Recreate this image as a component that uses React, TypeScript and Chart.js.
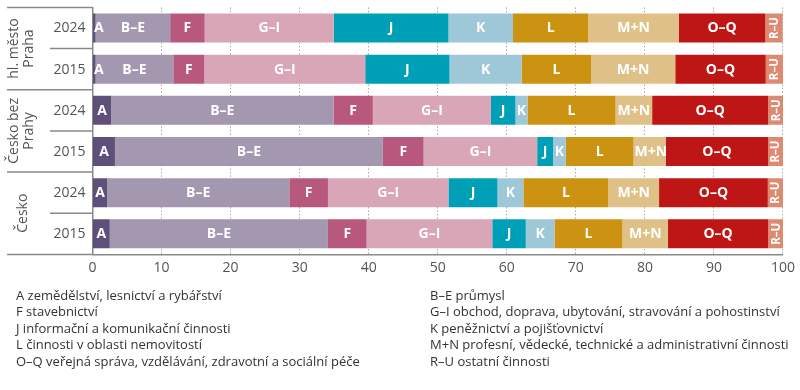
import React, { useEffect, useRef } from "react";
import { Chart, registerables } from "chart.js";

Chart.register(...registerables);

const years = ["2024", "2015", "2024", "2015", "2024", "2015"];
const groups = [["hl. město", "Praha"], ["Česko bez", "Prahy"], ["Česko"]];

const seriesLabels = ["A", "B–E", "F", "G–I", "J", "K", "L", "M+N", "O–Q", "R–U"];
const colors = ["#5f5079", "#a398b0", "#b8587d", "#d8a6b6", "#009fb8", "#9ec8d8", "#cc9212", "#dfc187", "#be1515", "#dd8a71"];

const valA = [0.45, 0.45, 2.7, 3.25, 2.1, 2.5];
const valBE = [10.8, 11.25, 32.2, 38.8, 26.4, 31.6];
const valF = [5.0, 4.5, 5.7, 5.9, 5.6, 5.6];
const valGI = [18.7, 23.3, 17.1, 16.45, 17.45, 18.2];
const valJ = [16.6, 12.2, 3.55, 2.3, 7.1, 4.85];
const valK = [9.35, 10.45, 1.75, 1.85, 3.75, 4.15];
const valL = [10.9, 10.05, 12.75, 9.8, 12.3, 9.85];
const valMN = [13.1, 12.2, 5.3, 4.65, 7.35, 6.6];
const valOQ = [12.55, 13.1, 16.8, 14.85, 15.75, 14.5];
const valRU = [2.5, 2.5, 2.2, 2.15, 2.2, 2.2];

const xTicks = [0, 10, 20, 30, 40, 50, 60, 70, 80, 90, 100];

const legendLeft = [
  "A zemědělství, lesnictví a rybářství",
  "F stavebnictví",
  "J informační a komunikační činnosti",
  "L činnosti v oblasti nemovitostí",
  "O–Q veřejná správa, vzdělávání, zdravotní a sociální péče",
];
const legendRight = [
  "B–E průmysl",
  "G–I obchod, doprava, ubytování, stravování a pohostinství",
  "K peněžnictví a pojišťovnictví",
  "M+N profesní, vědecké, technické a administrativní činnosti",
  "R–U ostatní činnosti",
];

const FONT = "'Open Sans', 'Noto Sans', sans-serif";
const LINE = "#8a8a8a";

const labelsPlugin = {
  id: "segLabels",
  afterDatasetsDraw(chart: any) {
    const ctx = chart.ctx;
    ctx.save();
    ctx.fillStyle = "#ffffff";
    ctx.textBaseline = "middle";
    ctx.textAlign = "center";
    chart.data.datasets.forEach((ds: any, di: number) => {
      const meta = chart.getDatasetMeta(di);
      meta.data.forEach((el: any) => {
        const left = Math.min(el.x, el.base);
        const right = Math.max(el.x, el.base);
        const w = right - left;
        const cy = el.y;
        if (ds.label === "R–U") {
          ctx.save();
          ctx.font = `bold 11.5px ${FONT}`;
          ctx.translate((left + right) / 2, cy);
          ctx.rotate(-Math.PI / 2);
          ctx.fillText(ds.label, 0, 0.5);
          ctx.restore();
        } else {
          ctx.font = `bold 14px ${FONT}`;
          const tw = ctx.measureText(ds.label).width;
          let cx = (left + right) / 2;
          if (w < tw + 2) cx = left + tw / 2 + 1;
          ctx.fillText(ds.label, cx, cy + 0.5);
        }
      });
    });
    ctx.restore();
  },
};

const tablePlugin = {
  id: "leftTable",
  afterDraw(chart: any) {
    const ctx = chart.ctx;
    const ys = chart.scales.y;
    const area = chart.chartArea;
    const px = (i: number) => ys.getPixelForValue(i);
    ctx.save();
    ctx.strokeStyle = LINE;
    ctx.lineWidth = 1.5;
    const hline = (x1: number, x2: number, y: number) => {
      ctx.beginPath();
      ctx.moveTo(x1, y);
      ctx.lineTo(x2, y);
      ctx.stroke();
    };
    hline(7, area.left, area.top);
    hline(7, area.left, area.bottom);
    for (let g = 0; g < groups.length; g++) {
      const i = g * 2;
      hline(50, area.left, (px(i) + px(i + 1)) / 2);
      if (g < groups.length - 1) hline(7, area.left, (px(i + 1) + px(i + 2)) / 2);
    }
    ctx.fillStyle = "#555555";
    ctx.font = `14px ${FONT}`;
    ctx.textAlign = "right";
    ctx.textBaseline = "middle";
    years.forEach((y, i) => ctx.fillText(y, area.left - 7, px(i) + 0.5));
    ctx.textAlign = "center";
    groups.forEach((lines, g) => {
      const cy = (px(g * 2) + px(g * 2 + 1)) / 2;
      const n = lines.length;
      lines.forEach((t, k) => {
        const cx = n === 1 ? 23 : 14 + k * 15;
        ctx.save();
        ctx.translate(cx, cy);
        ctx.rotate(-Math.PI / 2);
        ctx.fillText(t, 0, 0);
        ctx.restore();
      });
    });
    ctx.restore();
  },
};

export default function App() {
  const ref = useRef<HTMLCanvasElement | null>(null);
  useEffect(() => {
    document.body.style.margin = "0";
    if (!ref.current) return;
    const datasets = [valA, valBE, valF, valGI, valJ, valK, valL, valMN, valOQ, valRU].map((d, i) => ({
      label: seriesLabels[i],
      data: d,
      backgroundColor: colors[i],
      borderWidth: 0,
      barPercentage: 0.705,
      categoryPercentage: 1,
      stack: "s",
    }));
    const chart = new Chart(ref.current, {
      type: "bar",
      data: { labels: years.map((y, i) => `${i}-${y}`), datasets },
      options: {
        indexAxis: "y",
        animation: false,
        responsive: false,
        devicePixelRatio: 1,
        layout: { padding: { top: 7.4, right: 16.5, left: 0, bottom: 0 } },
        plugins: { legend: { display: false }, tooltip: { enabled: false } },
        scales: {
          x: {
            type: "linear",
            stacked: true,
            min: 0,
            max: 100,
            afterFit: (s: any) => {
              s.height = 135.6;
            },
            afterBuildTicks: (s: any) => {
              s.ticks = xTicks.map((v) => ({ value: v }));
            },
            ticks: { color: "#555555", font: { family: FONT, size: 14 }, padding: 5 },
            grid: {
              drawTicks: false,
              color: (c: any) => (c.tick && c.tick.value === 0 ? "rgba(0,0,0,0)" : "#a8a8a8"),
              lineWidth: 1,
            },
            border: { display: true, color: LINE, width: 1.5, dash: [1.5, 2] },
          },
          y: {
            type: "category",
            stacked: true,
            afterFit: (s: any) => {
              s.width = 92.5;
            },
            ticks: { display: false },
            grid: { display: false, drawTicks: false },
            border: { display: true, color: LINE, width: 1.5 },
          },
        },
      },
      plugins: [labelsPlugin, tablePlugin],
    });
    return () => chart.destroy();
  }, []);

  const legendStyle = (left: number): React.CSSProperties => ({
    position: "absolute",
    left,
    top: 286.75,
    fontFamily: FONT,
    fontSize: 13,
    lineHeight: "16.5px",
    color: "#333333",
    whiteSpace: "nowrap",
  });

  return (
    <div style={{ position: "relative", width: 800, height: 390 }}>
      <canvas ref={ref} width={800} height={390} style={{ display: "block", width: 800, height: 390 }} />
      <div style={legendStyle(16)}>
        {legendLeft.map((t) => (
          <div key={t}>{t}</div>
        ))}
      </div>
      <div style={legendStyle(430)}>
        {legendRight.map((t) => (
          <div key={t}>{t}</div>
        ))}
      </div>
    </div>
  );
}
